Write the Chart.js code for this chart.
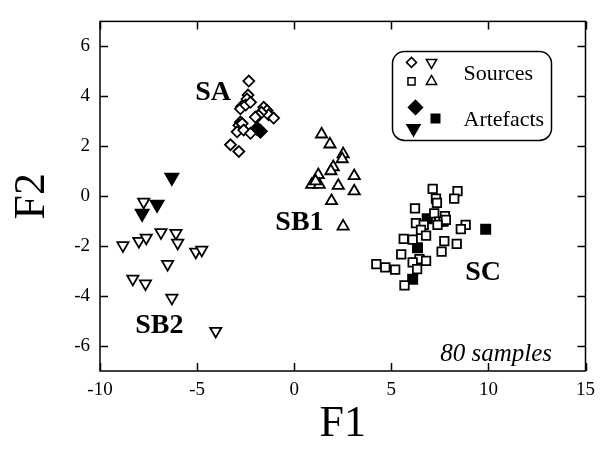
<!DOCTYPE html>
<html>
<head>
<meta charset="utf-8">
<script src="https://cdn.jsdelivr.net/npm/chart.js@4/dist/chart.umd.min.js"></script>
<style>
  html, body { margin: 0; padding: 0; background: #fff; }
  #wrap { width: 603px; height: 451px; }
</style>
</head>
<body>
<div id="wrap"><canvas id="scoreChart" width="603" height="451"></canvas></div>
<script>
// tick labels
const xTicks = [-10, -5, 0, 5, 10, 15];
const yTicks = [-6, -4, -2, 0, 2, 4, 6];

// sources (open markers)
const saSources = [
    [-2.34, 4.61], [-2.38, 4.05], [-2.43, 3.89], [-2.7, 3.6], [-2.77, 3.5],
    [-2.5, 3.65], [-2.25, 3.76], [-1.57, 3.56], [-1.4, 3.43], [-1.32, 3.26],
    [-1.06, 3.13], [-1.69, 3.36], [-1.83, 3.23], [-2.0, 3.17], [-2.77, 2.97],
    [-2.85, 2.84], [-2.68, 2.91], [-2.94, 2.58], [-2.6, 2.65], [-2.25, 2.52],
    [-3.28, 2.06], [-2.85, 1.79]
];
const sb1Sources = [
    [1.41, 2.48], [1.84, 2.08], [2.52, 1.69], [2.47, 1.49], [2.01, 1.17],
    [1.89, 1.01], [3.09, 0.81], [1.24, 0.85], [0.9, 0.46], [1.29, 0.46],
    [1.1, 0.6], [2.27, 0.42], [3.09, 0.2], [1.92, -0.19], [2.52, -1.21]
];
const scSources = [
    [7.13, 0.29], [8.41, 0.2], [8.24, -0.1], [7.3, -0.1], [7.35, -0.27],
    [6.22, -0.49], [7.21, -0.69], [7.76, -0.8], [7.47, -1.02], [7.69, -1.02],
    [7.81, -0.95], [6.27, -1.08], [6.67, -1.15], [7.38, -1.15], [8.83, -1.15],
    [8.58, -1.32], [6.53, -1.35], [6.79, -1.58], [5.64, -1.71], [6.1, -1.74],
    [7.73, -1.8], [8.37, -1.91], [7.59, -2.22], [5.51, -2.33], [6.45, -2.52],
    [6.79, -2.59], [6.1, -2.65], [6.33, -2.92], [4.23, -2.72], [4.69, -2.85],
    [5.2, -2.94], [5.68, -3.57]
];
const sb2Sources = [
    [-7.75, -0.23], [-8.82, -1.97], [-8.0, -1.8], [-7.62, -1.67], [-6.86, -1.45],
    [-6.09, -1.48], [-6.0, -1.87], [-5.07, -2.23], [-4.76, -2.15], [-6.52, -2.72],
    [-8.31, -3.31], [-7.66, -3.5], [-6.3, -4.07], [-4.04, -5.4]
];

// artefacts (filled markers)
const saArtefacts = [[-1.91, 2.71], [-1.74, 2.6]];
const scArtefacts = [[6.85, -0.9], [6.35, -2.06], [6.1, -3.33], [9.86, -1.32]];
const sb2Artefacts = [[-6.3, 0.75], [-7.06, -0.33], [-7.83, -0.69]];

// group labels
const groupLabels = ['SA', 'SB1', 'SC', 'SB2'];
const groupLabelPos = [[-4.18, 4.14], [0.27, -1.05], [9.73, -3.05], [-6.94, -5.17]];
const noteText = '80 samples';
const notePos = [10.4, -6.34];

const serif = "'Liberation Serif', 'Times New Roman', serif";

const toPoints = (arr) => arr.map(p => ({ x: p[0], y: p[1] }));

const markerSet = (data, style, radius, filled, rotation) => ({
    data: toPoints(data),
    pointStyle: style,
    pointRadius: radius,
    pointHoverRadius: radius,
    pointRotation: rotation || 0,
    pointBorderWidth: 1.8,
    pointBorderColor: '#000',
    pointBackgroundColor: filled ? '#000' : '#fff',
    showLine: false
});

// frame with inward ticks on all four sides
const framePlugin = {
    id: 'frame',
    beforeDatasetsDraw(chart) {
        const { ctx, chartArea: a, scales: { x, y } } = chart;
        const tl = 8;
        ctx.save();
        ctx.strokeStyle = '#000';
        ctx.lineWidth = 1.5;
        ctx.strokeRect(a.left, a.top, a.right - a.left, a.bottom - a.top);
        ctx.beginPath();
        xTicks.forEach(v => {
            const px = Math.round(x.getPixelForValue(v)) + 0.5;
            ctx.moveTo(px, a.bottom); ctx.lineTo(px, a.bottom - tl);
            ctx.moveTo(px, a.top); ctx.lineTo(px, a.top + tl);
        });
        yTicks.forEach(v => {
            const py = Math.round(y.getPixelForValue(v)) + 0.5;
            ctx.moveTo(a.left, py); ctx.lineTo(a.left + tl, py);
            ctx.moveTo(a.right, py); ctx.lineTo(a.right - tl, py);
        });
        ctx.stroke();
        ctx.restore();
    }
};

// group names, note and the legend box
const labelPlugin = {
    id: 'labels',
    afterDatasetsDraw(chart) {
        const { ctx, chartArea: a, scales: { x, y } } = chart;
        ctx.save();
        ctx.fillStyle = '#000';
        ctx.textAlign = 'center';
        ctx.textBaseline = 'middle';
        ctx.font = 'bold 28px ' + serif;
        groupLabels.forEach((t, i) => {
            ctx.fillText(t, x.getPixelForValue(groupLabelPos[i][0]), y.getPixelForValue(groupLabelPos[i][1]));
        });
        ctx.font = 'italic 25px ' + serif;
        ctx.fillText(noteText, x.getPixelForValue(notePos[0]), y.getPixelForValue(notePos[1]));

        // legend
        const bx = a.right - 193, by = a.top + 30, bw = 159, bh = 89;
        ctx.lineWidth = 1.5;
        ctx.strokeStyle = '#000';
        ctx.beginPath();
        ctx.roundRect(bx, by, bw, bh, 12);
        ctx.fillStyle = '#fff';
        ctx.fill();
        ctx.stroke();

        const draw = Chart.helpers.drawPoint;
        const sym = (style, r, rot, filled, px, py) => {
            ctx.fillStyle = filled ? '#000' : '#fff';
            ctx.strokeStyle = '#000';
            ctx.lineWidth = 1.5;
            draw(ctx, { pointStyle: style, radius: r, rotation: rot, borderWidth: 1.5 }, bx + px, by + py);
        };
        sym('rectRot', 5, 0, false, 19, 11);
        sym('triangle', 6, 180, false, 39, 11);
        sym('rect', 5, 0, false, 19, 30);
        sym('triangle', 6, 0, false, 39, 30);
        sym('rectRot', 7, 0, true, 23, 56);
        sym('triangle', 7.5, 180, true, 21, 77);
        sym('rect', 6, 0, true, 43, 67);

        ctx.fillStyle = '#000';
        ctx.textAlign = 'left';
        ctx.font = '22px ' + serif;
        ctx.fillText('Sources', bx + 71, by + 23);
        ctx.fillText('Artefacts', bx + 71, by + 69);
        ctx.restore();
    }
};

document.addEventListener('DOMContentLoaded', () => {
    const ctx = document.getElementById('scoreChart').getContext('2d');
    new Chart(ctx, {
        type: 'scatter',
        data: {
            datasets: [
                markerSet(saSources, 'rectRot', 5.5, false),
                markerSet(sb1Sources, 'triangle', 6.5, false),
                markerSet(scSources, 'rect', 6, false),
                markerSet(sb2Sources, 'triangle', 6.5, false, 180),
                markerSet(saArtefacts, 'rectRot', 6.5, true),
                markerSet(scArtefacts, 'rect', 6.5, true),
                markerSet(sb2Artefacts, 'triangle', 7.5, true, 180)
            ]
        },
        options: {
            responsive: false,
            animation: false,
            events: [],
            layout: { padding: { top: 14, right: 16, left: 0, bottom: 0 } },
            plugins: { legend: { display: false }, tooltip: { enabled: false } },
            scales: {
                x: {
                    type: 'linear',
                    min: -10,
                    max: 15,
                    afterBuildTicks: (s) => { s.ticks = xTicks.map(v => ({ value: v })); },
                    afterFit: (s) => { s.height = 80; },
                    grid: { display: false, drawTicks: false },
                    border: { display: false },
                    ticks: { color: '#000', padding: 8, font: { family: serif, size: 19 } },
                    title: { display: true, text: 'F1', color: '#000', padding: { top: 0, bottom: 0 }, font: { family: serif, size: 44 } }
                },
                y: {
                    type: 'linear',
                    min: -7,
                    max: 7,
                    afterBuildTicks: (s) => { s.ticks = yTicks.map(v => ({ value: v })); },
                    afterFit: (s) => { s.width = 100; },
                    grid: { display: false, drawTicks: false },
                    border: { display: false },
                    ticks: { color: '#000', padding: 10, font: { family: serif, size: 19 } },
                    title: { display: true, text: 'F2', color: '#000', padding: { top: 6, bottom: 0 }, font: { family: serif, size: 44 } }
                }
            }
        },
        plugins: [framePlugin, labelPlugin]
    });
});
</script>
</body>
</html>
